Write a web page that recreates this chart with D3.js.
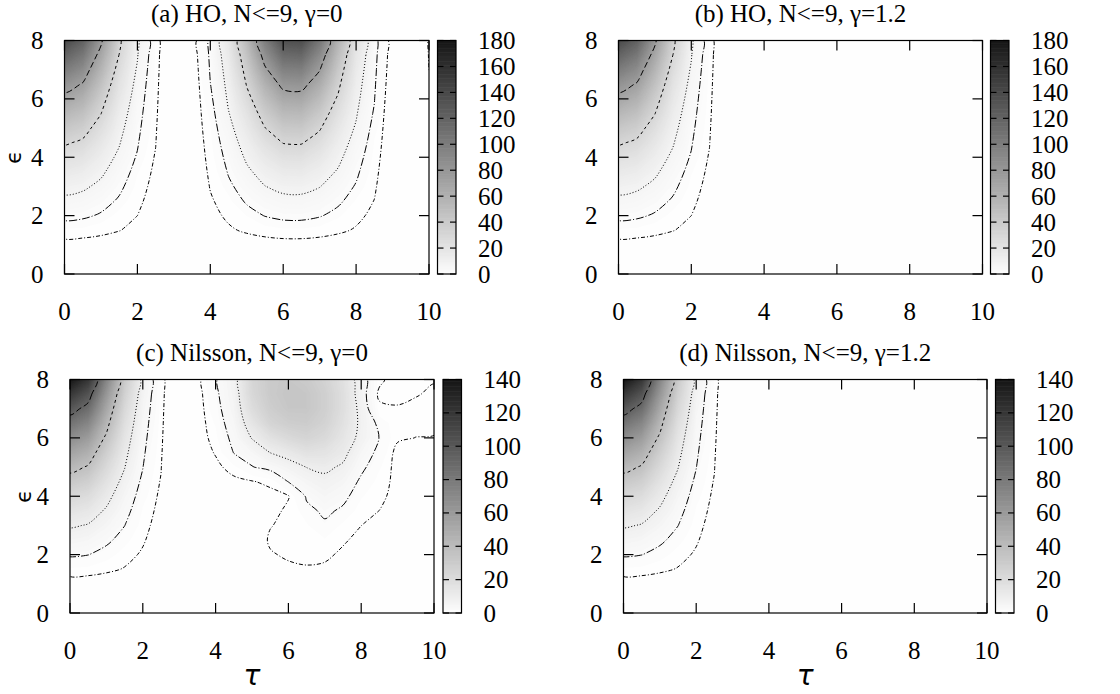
<!DOCTYPE html>
<html><head><meta charset="utf-8">
<script src="https://cdn.jsdelivr.net/npm/d3@7"></script>
<style>body{margin:0;background:#fff} svg{display:block}</style>
</head><body><svg id="chart" width="1120" height="694"></svg>
<script>
// ---------- data ----------
const tauGrid = [0,0.5,1,1.5,2,2.5,3,3.5,4,4.5,5,5.5,6,6.5,7,7.5,8,8.5,9,9.5,10];
const epsGrid = [0,0.5,1,1.5,2,2.5,3,3.5,4,4.5,5,5.5,6,6.5,7,7.5,8];
const tauTicks = [0,2,4,6,8,10];
const epsTicks = [0,2,4,6,8];
const cbTicksHO = [0,20,40,60,80,100,120,140,160,180];
const cbTicksNilsson = [0,20,40,60,80,100,120,140];
const contourLevelsHO = [0.181, 1.82, 7.46, 30.5, 74.4];
const contourLevelsNilsson = [0.226, 2.27, 9.33, 38.1, 93];
const contourDashes = ["4,2,1,2", "8,2,1,2", "1,2", "3,3", "6,3"];
const titles = ["(a) HO, N<=9, \u03b3=0", "(b) HO, N<=9, \u03b3=1.2", "(c) Nilsson, N<=9, \u03b3=0", "(d) Nilsson, N<=9, \u03b3=1.2"];

// rows: eps = 0 .. 8 (step 0.5); columns: tau = 0 .. 10 (step 0.5)
const gridA = [
[0,0,0,0,0,0,0,0,0,0,0,0,0,0,0,0,0,0,0,0,0],
[0.0056,0.0049,0.0031,0.0014,0.0004,0,0,0,0.0001,0.0007,0.0021,0.004,0.0054,0.0054,0.0042,0.0023,0.0009,0.0002,0,0,0],
[0.062,0.054,0.035,0.016,0.0042,0.0004,0,0,0.0013,0.008,0.023,0.044,0.06,0.061,0.046,0.026,0.0096,0.0018,0,0,0.0001],
[0.832,0.724,0.469,0.21,0.0554,0.0052,0,0.0004,0.0176,0.107,0.314,0.588,0.796,0.808,0.623,0.349,0.128,0.0238,0.0004,0,0.0015],
[2.72,2.37,1.53,0.688,0.182,0.017,0,0.0014,0.0574,0.352,1.02,1.92,2.6,2.65,2.04,1.14,0.419,0.078,0.0014,0,0.0049],
[5.85,5.09,3.3,1.48,0.39,0.0364,0.0001,0.003,0.123,0.756,2.21,4.14,5.59,5.7,4.38,2.45,0.904,0.168,0.003,0.0001,0.0106],
[10.3,8.96,5.81,2.61,0.688,0.0642,0.0001,0.0052,0.218,1.34,3.89,7.3,9.84,10.1,7.74,4.33,1.59,0.296,0.0052,0.0001,0.0186],
[16.2,14.1,9.12,4.09,1.08,0.101,0.0002,0.0082,0.341,2.09,6.1,11.4,15.4,15.8,12.1,6.77,2.49,0.463,0.0081,0.0002,0.0291],
[23.5,20.5,13.3,5.95,1.57,0.146,0.0002,0.0119,0.497,3.04,8.88,16.6,22.5,22.9,17.6,9.84,3.62,0.674,0.0118,0.0002,0.0423],
[32.3,28.2,18.2,8.16,2.15,0.202,0.0003,0.0163,0.682,4.18,12.2,22.9,31,31.5,24.2,13.5,4.98,0.928,0.0162,0.0003,0.0582],
[42.8,37.3,24.1,10.8,2.86,0.266,0.0004,0.0217,0.904,5.54,16.2,30.2,41,41.7,32.1,17.9,6.59,1.22,0.0214,0.0004,0.077],
[54.8,47.7,30.9,13.8,3.65,0.342,0.0005,0.0278,1.16,7.09,20.6,38.7,52.4,53.4,41,23,8.4,1.57,0.0274,0.0006,0.0984],
[68.4,59.5,38.5,17.3,4.56,0.426,0.0006,0.0346,1.44,8.88,25.8,48.4,65.4,66.6,51.3,28.6,10.6,1.96,0.0342,0.0007,0.123],
[83.8,72.9,47.1,21.2,5.58,0.522,0.0007,0.0424,1.77,10.8,31.6,59.2,80.2,81.6,62.8,35.1,12.9,2.4,0.0419,0.0008,0.15],
[100.8,87.8,56.7,25.5,6.72,0.628,0.0009,0.051,2.13,13,38,71.3,96.4,98.2,75.5,42.2,15.5,2.89,0.0504,0.001,0.182],
[119.5,104,67.3,30.2,7.97,0.744,0.001,0.0605,2.52,15.4,45,84.6,114.3,116.5,89.5,50.1,18.4,3.42,0.0598,0.0012,0.215],
[140,121.8,78.8,35.4,9.36,0.872,0.0012,0.0709,2.95,18.1,52.8,99,133.9,136.4,104.9,58.6,21.6,4.02,0.07,0.0014,0.252]
];
const gridB = [
[0,0,0,0,0,0,0,0,0,0,0,0,0,0,0,0,0,0,0,0,0],
[0.0056,0.0049,0.0031,0.0014,0.0004,0,0,0,0,0,0,0,0,0,0,0,0,0,0,0,0],
[0.062,0.054,0.035,0.016,0.0042,0.0004,0,0,0,0,0,0,0,0,0,0,0,0,0,0,0],
[0.832,0.724,0.469,0.21,0.0554,0.0052,0,0,0,0,0,0,0,0,0,0,0,0,0,0,0],
[2.72,2.37,1.53,0.688,0.182,0.017,0,0,0,0,0,0,0,0,0,0,0,0,0,0,0],
[5.85,5.09,3.3,1.48,0.39,0.0364,0.0001,0,0,0,0,0,0,0,0,0,0,0,0,0,0],
[10.3,8.96,5.81,2.61,0.688,0.0642,0.0001,0,0,0,0,0,0,0,0,0,0,0,0,0,0],
[16.2,14.1,9.12,4.09,1.08,0.101,0.0002,0,0,0,0,0,0,0,0,0,0,0,0,0,0],
[23.5,20.5,13.3,5.95,1.57,0.146,0.0002,0,0,0,0,0,0,0,0,0,0,0,0,0,0],
[32.3,28.2,18.2,8.16,2.15,0.202,0.0003,0,0,0,0,0,0,0,0,0,0,0,0,0,0],
[42.8,37.3,24.1,10.8,2.86,0.266,0.0004,0,0,0,0,0,0,0,0,0,0,0,0,0,0],
[54.8,47.7,30.9,13.8,3.65,0.342,0.0005,0,0,0,0,0,0,0,0,0,0,0,0,0,0],
[68.4,59.5,38.5,17.3,4.56,0.426,0.0006,0,0,0,0,0,0,0,0,0,0,0,0,0,0],
[83.8,72.9,47.1,21.2,5.58,0.522,0.0007,0,0,0,0,0,0,0,0,0,0,0,0,0,0],
[100.8,87.8,56.7,25.5,6.72,0.628,0.0009,0,0,0,0,0,0,0,0,0,0,0,0,0,0],
[119.5,104,67.3,30.2,7.97,0.744,0.001,0,0,0,0,0,0,0,0,0,0,0,0,0,0],
[140,121.8,78.8,35.4,9.36,0.872,0.0012,0,0,0,0,0,0,0,0,0,0,0,0,0,0]
];
const gridC = [
[0,0,0,0,0,0,0,0,0,0,0,0,0,0,0,0,0,0,0,0,0],
[0.0056,0.0048,0.0029,0.0013,0.0003,0,0,0,0.001,0.001,0.003,0.01,0.015,0.02,0.015,0.01,0.005,0.003,0.002,0.002,0.002],
[0.062,0.053,0.032,0.014,0.0034,0.0004,0,0.001,0.004,0.005,0.01,0.03,0.05,0.06,0.05,0.03,0.02,0.01,0.005,0.005,0.005],
[0.83,0.714,0.432,0.187,0.0457,0.005,0,0.003,0.008,0.01,0.02,0.08,0.14,0.18,0.15,0.07,0.04,0.02,0.01,0.01,0.01],
[2.72,2.34,1.41,0.612,0.15,0.0163,0,0.004,0.01,0.015,0.03,0.18,0.32,0.4,0.35,0.15,0.07,0.03,0.015,0.015,0.015],
[5.85,5.03,3.04,1.32,0.322,0.0351,0.0001,0.006,0.015,0.02,0.035,0.32,0.45,0.6,0.9,0.3,0.12,0.05,0.02,0.02,0.02],
[10.3,8.86,5.36,2.32,0.567,0.0618,0.0001,0.008,0.02,0.025,0.04,0.2,0.42,0.9,1.8,0.8,0.23,0.1,0.03,0.03,0.03],
[16.2,13.9,8.42,3.65,0.891,0.0972,0.0002,0.01,0.025,0.03,0.05,0.12,0.33,1.5,3,1.8,0.55,0.22,0.05,0.04,0.035],
[23.5,20.2,12.2,5.29,1.29,0.141,0.0002,0.012,0.03,0.04,0.08,0.12,0.2,2.8,5,3.3,1.1,0.45,0.08,0.05,0.04],
[32.3,27.8,16.8,7.27,1.78,0.194,0.0003,0.015,0.05,0.1,0.2,0.35,2.4,5.5,7.5,5.5,1.8,0.7,0.1,0.06,0.05],
[42.8,36.8,22.3,9.63,2.35,0.257,0.0004,0.02,0.1,0.8,2.1,4,6.5,9.5,11,8.3,3,1.1,0.1,0.07,0.06],
[54.8,47.1,28.5,12.3,3.01,0.329,0.0005,0.03,0.3,2.4,5,9.5,13,17,16,12,5,1.6,0.12,0.1,0.1],
[68.4,58.8,35.6,15.4,3.76,0.41,0.0007,0.045,0.7,3.6,9.8,17,22,25,22,15,7.5,2.2,0.3,0.22,0.21],
[83.8,72.1,43.6,18.9,4.61,0.503,0.0008,0.06,1.1,4.8,15,25,29,30,26,17.5,8,1.6,0.45,0.35,0.32],
[100.8,86.7,52.4,22.7,5.54,0.605,0.001,0.08,1.5,5.8,20,29,33,33,28,19,7.5,0.35,0.28,0.35,0.35],
[119.5,102.8,62.1,26.9,6.57,0.717,0.0012,0.1,1.8,6.5,23,31,34,33,28,19,6.5,0.15,0.12,0.2,0.3],
[140,120.4,72.8,31.5,7.7,0.84,0.0014,0.12,2,7,24,31,33,31,26,18,6,0.35,0.08,0.08,0.2]
];
const gridD = [
[0,0,0,0,0,0,0,0,0,0,0,0,0,0,0,0,0,0,0,0,0],
[0.0056,0.0048,0.0029,0.0013,0.0003,0,0,0,0,0,0,0,0,0,0,0,0,0,0,0,0],
[0.062,0.053,0.032,0.014,0.0034,0.0004,0,0,0,0,0,0,0,0,0,0,0,0,0,0,0],
[0.83,0.714,0.432,0.187,0.0457,0.005,0,0,0,0,0,0,0,0,0,0,0,0,0,0,0],
[2.72,2.34,1.41,0.612,0.15,0.0163,0,0,0,0,0,0,0,0,0,0,0,0,0,0,0],
[5.85,5.03,3.04,1.32,0.322,0.0351,0.0001,0,0,0,0,0,0,0,0,0,0,0,0,0,0],
[10.3,8.86,5.36,2.32,0.567,0.0618,0.0001,0,0,0,0,0,0,0,0,0,0,0,0,0,0],
[16.2,13.9,8.42,3.65,0.891,0.0972,0.0002,0,0,0,0,0,0,0,0,0,0,0,0,0,0],
[23.5,20.2,12.2,5.29,1.29,0.141,0.0002,0,0,0,0,0,0,0,0,0,0,0,0,0,0],
[32.3,27.8,16.8,7.27,1.78,0.194,0.0003,0,0,0,0,0,0,0,0,0,0,0,0,0,0],
[42.8,36.8,22.3,9.63,2.35,0.257,0.0004,0,0,0,0,0,0,0,0,0,0,0,0,0,0],
[54.8,47.1,28.5,12.3,3.01,0.329,0.0005,0,0,0,0,0,0,0,0,0,0,0,0,0,0],
[68.4,58.8,35.6,15.4,3.76,0.41,0.0007,0,0,0,0,0,0,0,0,0,0,0,0,0,0],
[83.8,72.1,43.6,18.9,4.61,0.503,0.0008,0,0,0,0,0,0,0,0,0,0,0,0,0,0],
[100.8,86.7,52.4,22.7,5.54,0.605,0.001,0,0,0,0,0,0,0,0,0,0,0,0,0,0],
[119.5,102.8,62.1,26.9,6.57,0.717,0.0012,0,0,0,0,0,0,0,0,0,0,0,0,0,0],
[140,120.4,72.8,31.5,7.7,0.84,0.0014,0,0,0,0,0,0,0,0,0,0,0,0,0,0]
];

// ---------- layout ----------
const panels = [
  {title: titles[0], grid: gridA, levels: contourLevelsHO, cbTicks: cbTicksHO,       x0: 64.5, x1: 429, y0: 40.5, y1: 274, cbX: 437.5, ylab: 21, xlab: false},
  {title: titles[1], grid: gridB, levels: contourLevelsHO, cbTicks: cbTicksHO,       x0: 618.5, x1: 982.5, y0: 40.5, y1: 274, cbX: 990.5, ylab: null, xlab: false},
  {title: titles[2], grid: gridC, levels: contourLevelsNilsson, cbTicks: cbTicksNilsson,  x0: 70, x1: 434, y0: 379.5, y1: 613, cbX: 443, ylab: 31, xlab: true},
  {title: titles[3], grid: gridD, levels: contourLevelsNilsson, cbTicks: cbTicksNilsson,  x0: 623.5, x1: 987, y0: 379.5, y1: 613, cbX: 995.5, ylab: null, xlab: true}
];
const FONT = "'Liberation Serif','Times New Roman',serif";
const FS = 25;
const cbW = 18.5;

function pal(f) {
  f = Math.max(0, Math.min(1, f));
  const g = Math.round(254 - 232 * f);
  return `rgb(${g},${g},${g})`;
}

const svg = d3.select("#chart");
svg.append("rect").attr("width", 1120).attr("height", 694).attr("fill", "#fff");
const defs = svg.append("defs");

panels.forEach((p, pi) => {
  const x = d3.scaleLinear().domain([tauTicks[0], tauTicks[tauTicks.length - 1]]).range([p.x0, p.x1]);
  const y = d3.scaleLinear().domain([epsTicks[0], epsTicks[epsTicks.length - 1]]).range([p.y1, p.y0]);
  const cbMax = p.cbTicks[p.cbTicks.length - 1];
  const nx = tauGrid.length, ny = epsGrid.length;
  const gx = d3.scaleLinear().domain([0.5, nx - 0.5]).range([x(tauGrid[0]), x(tauGrid[nx - 1])]);
  const gy = d3.scaleLinear().domain([0.5, ny - 0.5]).range([y(epsGrid[0]), y(epsGrid[ny - 1])]);
  const path = d3.geoPath(d3.geoTransform({ point(px, py) { this.stream.point(gx(px), gy(py)); } }));
  const flat = p.grid.flat();

  const clipId = "clip" + pi;
  defs.append("clipPath").attr("id", clipId).append("rect")
    .attr("x", p.x0).attr("y", p.y0).attr("width", p.x1 - p.x0).attr("height", p.y1 - p.y0);
  const g = svg.append("g").attr("clip-path", `url(#${clipId})`);
  g.append("rect").attr("x", p.x0).attr("y", p.y0).attr("width", p.x1 - p.x0).attr("height", p.y1 - p.y0)
    .attr("fill", pal(0));

  // heat map as fine filled bands
  const thr = d3.range(1, cbMax, 1);
  const bands = d3.contours().size([nx, ny]).thresholds(thr)(flat);
  g.selectAll("path.band").data(bands).join("path").attr("class", "band")
    .attr("d", path).attr("fill", d => pal((d.value + 0.5) / cbMax));

  // contour lines (level sets computed on log values, drawn as smooth closed curves)
  const logFlat = flat.map(v => Math.log(Math.max(v, 1e-7)));
  const lines = d3.contours().size([nx, ny]).thresholds(p.levels.map(Math.log))(logFlat);
  const smooth = d3.line().x(d => gx(d[0])).y(d => gy(d[1])).curve(d3.curveCatmullRomClosed.alpha(0.5));
  g.selectAll("path.cl").data(lines).join("path").attr("class", "cl")
    .attr("d", d => d.coordinates.map(poly => poly.map(ring => smooth(ring.slice(0, -1))).join("")).join(""))
    .attr("fill", "none").attr("stroke", "#000").attr("stroke-width", 1)
    .attr("stroke-dasharray", (d, i) => contourDashes[i]);

  // frame + ticks
  const ax = svg.append("g").attr("stroke", "#000").attr("stroke-width", 1.2).attr("fill", "none");
  ax.append("rect").attr("x", p.x0).attr("y", p.y0).attr("width", p.x1 - p.x0).attr("height", p.y1 - p.y0);
  const TL = 10;
  tauTicks.forEach(t => {
    ax.append("line").attr("x1", x(t)).attr("x2", x(t)).attr("y1", p.y1).attr("y2", p.y1 - TL);
    ax.append("line").attr("x1", x(t)).attr("x2", x(t)).attr("y1", p.y0).attr("y2", p.y0 + TL);
  });
  epsTicks.forEach(e => {
    ax.append("line").attr("y1", y(e)).attr("y2", y(e)).attr("x1", p.x0).attr("x2", p.x0 + TL);
    ax.append("line").attr("y1", y(e)).attr("y2", y(e)).attr("x1", p.x1).attr("x2", p.x1 - TL);
  });

  const txt = svg.append("g").attr("font-family", FONT).attr("font-size", FS).attr("fill", "#000");
  tauTicks.forEach(t => txt.append("text").attr("x", x(t)).attr("y", p.y1 + 46).attr("text-anchor", "middle").text(t));
  epsTicks.forEach(e => txt.append("text").attr("x", p.x0 - 21).attr("y", y(e) + 8.5).attr("text-anchor", "end").text(e));
  txt.append("text").attr("x", (p.x0 + p.x1) / 2).attr("y", p.y0 - 19).attr("text-anchor", "middle").text(p.title);

  if (p.ylab !== null) {
    svg.append("text").attr("transform", `translate(${p.ylab},${(p.y0 + p.y1) / 2}) rotate(-90)`)
      .attr("text-anchor", "middle")
      .attr("font-family", "'DejaVu Sans',sans-serif").attr("font-size", 22).text("\u03f5");
  }
  if (p.xlab) {
    svg.append("text").attr("x", (p.x0 + p.x1) / 2).attr("y", p.y1 + 72)
      .attr("text-anchor", "middle").attr("font-family", "'DejaVu Sans',sans-serif")
      .attr("font-style", "italic").attr("font-size", 28).text("\u03c4");
  }

  // colour bar
  const cy = d3.scaleLinear().domain([0, cbMax]).range([p.y1, p.y0]);
  const cbg = svg.append("g");
  cbg.selectAll("rect").data(d3.range(0, cbMax, 1)).join("rect")
    .attr("x", p.cbX).attr("width", cbW)
    .attr("y", d => cy(d + 1)).attr("height", d => cy(d) - cy(d + 1) + 0.6)
    .attr("fill", d => pal((d + 0.5) / cbMax));
  const cba = svg.append("g").attr("stroke", "#000").attr("stroke-width", 1.2).attr("fill", "none");
  cba.append("rect").attr("x", p.cbX).attr("y", p.y0).attr("width", cbW).attr("height", p.y1 - p.y0);
  p.cbTicks.forEach(v => {
    cba.append("line").attr("x1", p.cbX).attr("x2", p.cbX + 6).attr("y1", cy(v)).attr("y2", cy(v));
    cba.append("line").attr("x1", p.cbX + cbW).attr("x2", p.cbX + cbW - 6).attr("y1", cy(v)).attr("y2", cy(v));
    txt.append("text").attr("x", p.cbX + cbW + 22).attr("y", cy(v) + 8.5).attr("text-anchor", "start").text(v);
  });
});
</script>
</body></html>
